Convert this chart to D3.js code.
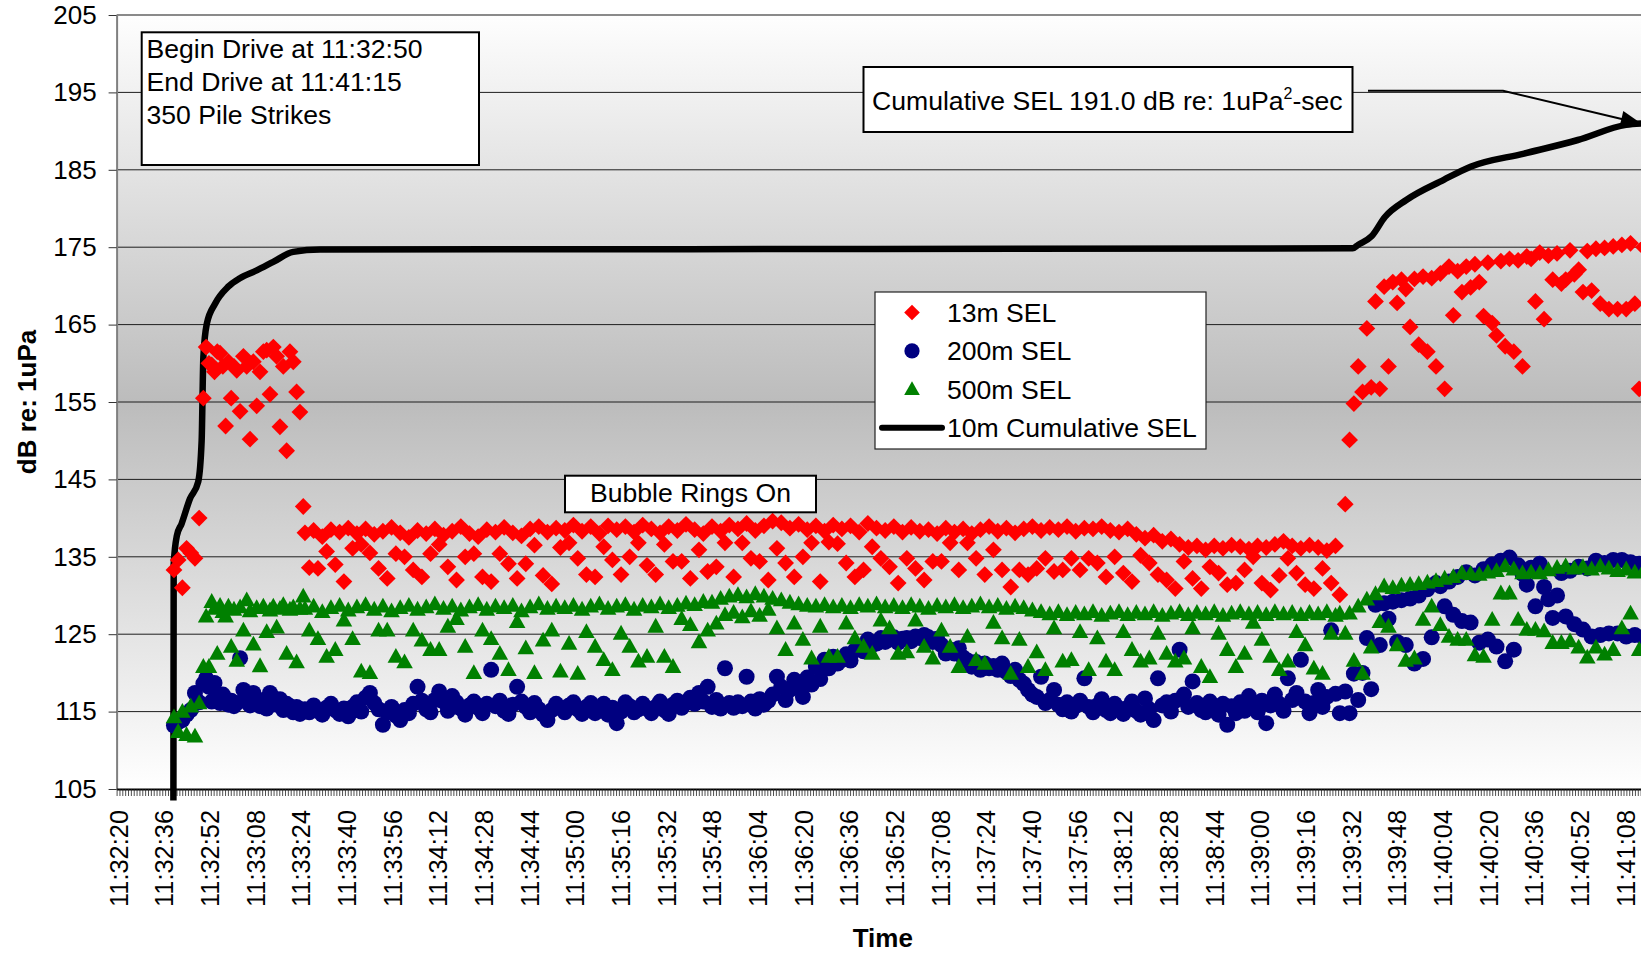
<!DOCTYPE html>
<html>
<head>
<meta charset="utf-8">
<script src="https://cdn.jsdelivr.net/npm/d3@7"></script>
<style>
  html, body { margin: 0; padding: 0; background: #ffffff; }
  svg { display: block; font-family: "Liberation Sans", Arial, sans-serif; }
</style>
</head>
<body>
<svg id="chart" width="1641" height="953"></svg>
<script>
// ---------------- DATA ----------------
const yTicks = [105, 115, 125, 135, 145, 155, 165, 175, 185, 195, 205];

const tickLabels = ["11:32:20","11:32:36","11:32:52","11:33:08","11:33:24","11:33:40","11:33:56",
  "11:34:12","11:34:28","11:34:44","11:35:00","11:35:16","11:35:32","11:35:48","11:36:04",
  "11:36:20","11:36:36","11:36:52","11:37:08","11:37:24","11:37:40","11:37:56","11:38:12",
  "11:38:28","11:38:44","11:39:00","11:39:16","11:39:32","11:39:48","11:40:04","11:40:20",
  "11:40:36","11:40:52","11:41:08"];
const tickLabelSeconds = [0,16,32,48,64,80,96,112,128,144,160,176,192,208,224,240,256,272,288,
  304,320,336,352,368,384,400,416,432,448,464,480,496,512,528]; // seconds after 11:32:20

// strike number (0-based) -> seconds after 11:32:20, read at these anchor strikes
const strikeAnchors = [0, 7, 19, 39, 40, 279, 280, 349];
const strikeAnchorSeconds = [19.6, 29.9, 41.6, 64.9, 65.5, 428.1, 430.0, 534.5];

// 13m SEL (dB) per strike
const sel13m = [
  133.3,134.6,131.0,136.1,135.5,134.8,140.0,155.5,162.1,160.0,
  159.8,158.9,161.5,161.3,159.6,151.9,160.2,155.5,159.6,159.1,
  153.8,160.9,159.6,150.2,160.2,154.5,158.9,161.5,161.7,156.0,
  162.1,160.9,151.8,159.6,148.7,161.5,160.2,156.3,153.7,141.5,
  138.1,133.6,138.4,133.5,137.6,135.7,138.5,134.0,138.2,131.8,
  138.7,136.1,138.0,136.6,138.6,135.5,137.9,133.5,138.3,132.2,
  138.8,135.4,138.1,135.0,137.5,133.3,138.4,132.4,138.0,135.4,
  138.6,136.6,137.8,133.7,138.3,132.0,138.9,135.0,138.0,135.4,
  137.6,132.4,138.5,131.8,138.2,135.4,138.8,134.1,138.1,132.2,
  137.7,134.1,138.6,136.5,138.9,132.6,138.2,131.5,138.7,136.2,
  138.4,136.8,139.1,134.8,138.3,132.7,138.9,132.4,138.0,136.3,
  139.0,134.6,138.5,132.7,138.9,135.0,138.2,136.8,139.1,133.9,
  138.6,132.7,138.1,136.6,138.9,134.4,138.4,134.4,139.2,132.2,
  138.5,135.9,138.0,133.1,138.9,133.7,138.3,136.8,139.1,132.4,
  138.6,136.8,139.3,134.8,138.4,134.4,139.0,132.0,139.6,136.1,
  139.4,134.2,138.7,132.4,139.2,135.0,138.5,136.8,139.0,131.8,
  138.3,136.9,139.1,136.7,138.6,134.2,139.0,132.4,138.2,133.3,
  139.3,136.3,138.7,134.8,138.4,133.7,138.9,131.6,138.2,134.8,
  138.8,133.5,138.3,132.0,138.5,134.4,138.0,134.4,138.7,136.8,
  138.2,133.3,138.6,136.8,138.0,134.8,138.5,132.7,138.9,135.9,
  138.3,133.3,138.7,131.1,138.1,133.3,138.6,132.7,138.9,133.5,
  138.4,134.8,138.8,133.1,138.5,133.3,138.9,134.8,138.3,133.3,
  138.7,134.8,138.6,134.2,138.9,132.4,138.4,135.0,138.2,132.9,
  138.6,131.8,137.9,135.2,137.4,134.2,137.8,132.7,137.0,132.0,
  137.3,130.9,136.6,134.4,136.2,132.2,136.4,130.9,135.9,133.7,
  136.4,132.9,136.1,131.4,136.5,131.6,136.3,133.3,136.0,135.0,
  136.4,131.6,136.2,130.7,136.6,132.6,137.0,134.8,136.4,132.9,
  136.1,131.4,136.5,130.9,136.2,133.5,135.8,131.6,136.4,130.1,
  141.8,150.1,154.8,159.6,156.3,164.5,156.9,168.0,156.7,169.9,
  159.6,170.5,167.8,170.8,169.6,164.7,170.9,162.4,171.2,161.5,
  171.0,159.6,171.6,156.7,172.5,166.2,171.9,169.2,172.5,169.8,
  172.8,170.5,166.1,173.0,165.2,163.6,173.2,162.2,173.5,161.5,
  173.3,159.6,173.8,173.5,168.0,174.3,165.7,173.9,170.8,174.2,
  170.3,170.8,174.6,171.5,172.1,169.2,174.5,169.4,174.8,167.7,
  174.9,167.0,175.1,167.0,175.3,167.0,175.5,167.7,156.7,175.0
];

// 200m SEL (dB) per strike
const sel200m = [
  113.2,113.6,113.9,114.6,115.2,117.4,116.2,118.6,119.3,118.2,
  116.3,118.7,117.0,116.1,117.2,116.6,115.9,116.4,115.7,116.1,
  121.9,117.8,116.4,115.8,117.4,116.2,115.7,116.5,115.4,117.4,
  116.8,115.9,116.6,115.2,116.0,115.7,114.9,115.6,114.7,115.1,
  115.3,114.9,115.8,115.1,114.6,115.5,116.0,115.2,114.7,115.4,
  114.4,115.6,116.2,115.0,116.8,117.4,116.1,115.3,113.3,114.9,
  115.6,114.5,113.9,115.2,114.8,116.0,118.2,116.4,115.3,114.9,
  116.5,117.6,116.3,115.1,117.0,116.2,115.4,114.6,115.8,116.3,
  115.5,114.8,116.0,120.4,115.7,116.4,115.1,114.7,115.9,118.2,
  116.3,115.6,114.9,116.1,115.3,114.6,113.9,115.2,116.0,115.5,
  114.9,115.8,116.2,115.3,114.7,115.6,116.1,114.8,115.4,116.0,
  114.6,115.5,113.5,115.0,116.2,115.7,114.9,115.3,116.0,115.4,
  114.8,115.6,116.3,115.2,114.7,115.9,116.4,115.5,116.1,116.8,
  116.0,117.4,116.3,118.2,115.6,116.5,115.4,120.6,116.1,115.5,
  116.2,115.7,119.5,116.3,115.4,116.6,115.9,116.4,117.2,119.5,
  118.2,116.5,117.8,119.1,118.2,116.9,119.4,118.5,120.8,119.2,
  121.7,120.6,122.1,121.2,121.7,122.4,121.6,122.9,123.3,122.8,
  124.3,123.6,123.8,124.5,124.0,124.3,124.6,123.9,124.4,124.5,
  124.1,124.7,124.5,124.9,124.6,124.0,124.4,123.6,122.5,123.0,
  122.5,123.2,122.0,121.6,120.8,121.4,120.4,121.2,120.6,120.9,
  120.4,121.2,120.1,119.6,120.4,119.1,118.6,117.8,117.2,116.9,
  119.5,116.1,116.5,117.8,115.9,115.3,116.2,115.0,115.7,116.4,
  119.3,115.6,114.9,115.8,116.6,115.2,114.8,116.0,115.4,114.7,
  115.5,116.3,115.1,114.6,116.7,115.3,113.9,119.3,115.8,116.2,
  115.0,116.4,123.0,117.2,115.6,118.9,116.1,115.2,114.9,116.3,
  115.4,114.6,116.0,113.3,115.7,114.8,116.2,115.1,117.0,115.5,
  114.9,116.4,113.5,115.8,117.2,116.0,115.1,119.3,116.5,117.4,
  121.7,116.3,114.8,116.1,117.8,115.6,116.9,125.5,117.3,114.8,
  117.6,114.8,119.9,116.5,120.0,124.5,117.9,128.8,123.6,129.0,
  127.0,129.2,124.0,129.4,123.6,129.6,121.2,130.0,121.8,130.8,
  124.6,131.6,131.2,128.6,131.8,127.5,132.4,126.7,133.0,126.5,
  132.6,123.9,133.4,124.3,134.0,123.4,134.5,121.5,134.9,123.0,
  133.9,132.8,131.4,133.6,128.6,134.1,131.1,129.5,127.1,130.0,
  132.9,127.3,133.2,126.3,133.7,125.6,133.5,124.7,134.5,124.9,
  134.2,125.1,134.6,125.1,134.6,124.7,134.3,124.9,134.1,124.6
];

// 500m SEL (dB) per strike
const sel500m = [
  114.3,112.4,115.0,112.0,115.7,111.8,116.1,120.8,127.3,120.8,
  129.2,128.3,122.5,128.7,127.9,127.3,128.6,123.4,128.2,121.6,
  128.5,125.5,129.4,128.0,123.7,128.4,120.9,128.6,125.3,128.1,
  128.6,125.9,128.3,128.8,122.5,128.2,128.5,121.4,128.3,129.9,
  128.3,125.5,128.6,124.4,127.9,122.1,128.4,123.0,128.7,126.8,
  128.1,124.4,128.5,120.2,128.8,120.0,128.2,125.5,128.6,125.5,
  128.0,122.1,128.4,121.4,128.7,125.5,128.2,124.2,128.5,123.0,
  128.9,123.0,128.3,126.0,128.6,127.0,128.1,123.4,128.5,120.0,
  128.8,125.5,128.2,124.4,128.6,122.5,128.4,120.4,128.7,126.6,
  128.0,123.2,128.5,120.0,128.9,124.2,128.3,125.5,128.6,120.2,
  128.4,123.8,128.7,119.9,128.2,125.3,128.6,123.4,128.9,121.7,
  128.3,120.4,128.6,125.1,128.8,123.4,128.2,121.5,128.7,122.1,
  128.5,126.0,128.9,122.1,128.4,120.8,128.7,127.0,129.0,126.2,
  128.8,124.0,129.2,125.5,129.1,126.4,129.6,127.5,129.9,127.8,
  130.1,127.2,129.8,128.0,130.2,127.4,129.9,128.2,129.6,125.8,
  129.4,123.0,129.1,126.4,128.9,124.3,128.7,121.9,128.6,126.0,
  128.8,122.1,128.5,122.1,128.7,126.4,128.4,124.5,128.8,123.4,
  128.6,122.5,128.9,126.8,128.5,125.8,128.7,122.5,128.4,122.7,
  128.8,126.8,128.6,123.4,128.3,121.9,128.7,125.5,128.5,123.4,
  128.8,120.8,128.4,124.7,128.6,121.7,128.9,121.2,128.5,126.5,
  128.7,124.5,128.3,119.9,128.6,124.3,128.4,120.8,128.1,122.7,
  127.9,120.4,127.6,125.8,127.9,121.5,127.5,121.7,127.8,125.3,
  127.6,120.4,127.9,124.5,127.4,121.5,127.7,120.4,127.9,125.3,
  127.5,123.0,127.8,121.5,127.6,121.9,127.9,125.1,127.4,122.5,
  127.7,121.5,127.9,121.9,127.5,125.8,127.8,120.8,127.6,119.5,
  127.9,125.1,127.4,123.0,127.7,120.8,127.9,122.5,127.6,126.5,
  127.8,124.3,127.5,122.1,127.9,120.4,127.6,121.5,127.8,125.3,
  127.5,123.6,127.8,120.6,127.6,119.9,127.9,125.1,127.4,127.7,
  125.1,127.7,121.6,128.6,119.9,129.5,123.3,130.2,126.6,131.2,
  126.0,131.0,123.6,131.3,121.6,131.4,121.9,131.5,126.9,131.7,
  128.6,131.9,126.2,132.2,124.7,132.4,124.3,132.9,124.3,132.8,
  122.3,132.7,122.1,133.0,126.9,133.2,130.3,133.8,130.3,133.4,
  126.9,132.9,125.6,133.0,125.6,132.9,125.4,133.3,123.9,133.6,
  123.9,133.8,124.1,133.5,123.3,133.7,122.0,133.4,123.3,133.8,
  122.4,133.5,123.0,133.2,125.8,133.4,127.7,133.0,123.0,133.2
];

// 10m cumulative SEL (dB)
const cumSeconds = [19.4, 19.5, 20.6, 22.3, 25.2, 28.1, 29.3, 29.9, 31.1, 34.0, 38.6, 42.7, 48.6,
  54.4, 61.4, 70.8, 200, 432.6, 434.5, 439.2, 443.9, 451.4, 464.5, 473.9, 492.7, 511.5, 528.4, 535];
const cumSEL = [103.5, 134.0, 137.7, 139.3, 142.5, 144.7, 150.0, 160.8, 165.1, 167.7, 169.9, 171.0, 172.0,
  173.1, 174.4, 174.7, 174.75, 174.85, 175.3, 176.4, 178.9, 181.1, 183.7, 185.4, 187.1, 188.85, 190.8, 191.0];

// ---------------- CHART ----------------
const svg = d3.select("#chart");
const FONT = 26.6;

const x = d3.scaleLinear().domain([-0.5, 538.5]).range([116.6, 116.6 + 539 * 2.854]);
const y = d3.scaleLinear().domain([105, 205]).range([789, 15]);
const strikeTime = d3.scaleLinear().domain(strikeAnchors).range(strikeAnchorSeconds);
const [xl, xr] = x.range();

const defs = svg.append("defs");
const grad = defs.append("linearGradient").attr("id", "bg")
  .attr("x1", 0).attr("y1", 0).attr("x2", 0).attr("y2", 1);
grad.selectAll("stop").data([[0, "#fefefe"], [0.5, "#bcbcbc"], [1, "#ffffff"]])
  .join("stop").attr("offset", d => d[0]).attr("stop-color", d => d[1]);

// plot area background
svg.append("rect").attr("x", xl).attr("y", y(205)).attr("width", xr - xl)
  .attr("height", y(105) - y(205)).attr("fill", "url(#bg)");

// gridlines
svg.append("g").selectAll("line").data(yTicks.filter(v => v > 105 && v < 205)).join("line")
  .attr("x1", xl).attr("x2", xr).attr("y1", d => y(d)).attr("y2", d => y(d))
  .attr("stroke", "#1e1e1e").attr("stroke-width", 1);
// plot border top
svg.append("line").attr("x1", xl).attr("x2", xr).attr("y1", y(205)).attr("y2", y(205))
  .attr("stroke", "#8a8a8a").attr("stroke-width", 2);

// Y axis
const yAxis = svg.append("g").attr("transform", `translate(${xl},0)`)
  .call(d3.axisLeft(y).tickValues(yTicks).tickSize(8).tickSizeOuter(0).tickPadding(12));
yAxis.select(".domain").attr("stroke", "#808080").attr("stroke-width", 2);
yAxis.selectAll(".tick line").attr("stroke", "#333");
yAxis.selectAll("text").attr("font-size", 26).attr("fill", "#000")
  .attr("font-family", "'Liberation Sans', Arial, sans-serif");

// X axis minor ticks (one per second / category)
const xMinor = svg.append("g").attr("transform", `translate(0,${y(105)})`)
  .call(d3.axisBottom(x).tickValues(d3.range(-0.5, 539, 1)).tickSize(7).tickSizeOuter(0).tickFormat(""));
xMinor.select(".domain").attr("stroke", "#000").attr("stroke-width", 2);
xMinor.selectAll(".tick line").attr("stroke", "#222").attr("stroke-width", 0.8);

// X labels
const xLab = svg.append("g").attr("transform", `translate(0,${y(105)})`)
  .call(d3.axisBottom(x).tickValues(tickLabelSeconds).tickSize(0)
    .tickFormat((d, i) => tickLabels[i]));
xLab.select(".domain").remove();
xLab.selectAll("text")
  .attr("transform", "rotate(-90)").attr("x", -21).attr("y", 0).attr("dy", "0.36em")
  .attr("text-anchor", "end").attr("font-size", 25.4).attr("fill", "#000")
  .attr("font-family", "'Liberation Sans', Arial, sans-serif");

// axis titles
svg.append("text").attr("transform", `translate(27,${(y(105) + y(205)) / 2}) rotate(-90)`)
  .attr("text-anchor", "middle").attr("dy", "0.35em").attr("font-weight", "bold")
  .attr("font-size", 26).text("dB re: 1uPa");
svg.append("text").attr("x", (xl + xr) / 2 - 3).attr("y", 947).attr("text-anchor", "middle")
  .attr("font-weight", "bold").attr("font-size", 26).text("Time");

// cumulative line
svg.append("path").datum(cumSeconds.map((s, i) => [s, cumSEL[i]]))
  .attr("d", d3.line().x(d => x(d[0])).y(d => y(d[1])).curve(d3.curveMonotoneX))
  .attr("fill", "none").attr("stroke", "#000").attr("stroke-width", 6.5)
  .attr("stroke-linejoin", "round").attr("stroke-linecap", "butt");

// markers
const diamond = "M0,-8.4L8.4,0L0,8.4L-8.4,0Z";
const triangle = "M0,-8.6L8.3,6.2L-8.3,6.2Z";
const R = 8;

svg.append("g").selectAll("path").data(sel13m).join("path")
  .attr("d", diamond).attr("fill", "#ff0000")
  .attr("transform", (d, i) => `translate(${x(strikeTime(i))},${y(d)})`);
svg.append("g").selectAll("circle").data(sel200m).join("circle")
  .attr("cx", (d, i) => x(strikeTime(i))).attr("cy", d => y(d)).attr("r", R)
  .attr("fill", "#000080");
svg.append("g").selectAll("path").data(sel500m).join("path")
  .attr("d", triangle).attr("fill", "#008000")
  .attr("transform", (d, i) => `translate(${x(strikeTime(i))},${y(d)})`);

// annotation: drive info
const info = svg.append("g");
info.append("rect").attr("x", 141.7).attr("y", 32.3).attr("width", 337.3).attr("height", 132.7)
  .attr("fill", "#fff").attr("stroke", "#000").attr("stroke-width", 2);
["Begin Drive at 11:32:50", "End Drive at 11:41:15", "350 Pile Strikes"].forEach((t, i) => {
  info.append("text").attr("x", 146.5).attr("y", 57.5 + i * 33).attr("font-size", FONT).text(t);
});

// annotation: cumulative
const cum = svg.append("g");
cum.append("rect").attr("x", 863.5).attr("y", 67).attr("width", 489).attr("height", 65)
  .attr("fill", "#fff").attr("stroke", "#000").attr("stroke-width", 2);
const ct = cum.append("text").attr("x", 872).attr("y", 110).attr("font-size", FONT);
ct.append("tspan").text("Cumulative SEL 191.0 dB re: 1uPa");
ct.append("tspan").attr("font-size", 16).attr("dy", -11).text("2");
ct.append("tspan").attr("dy", 11).text("-sec");
// arrow to end of cumulative curve
const tipX = x(533.6), tipY = y(191.0);
const elbowX = 1503, elbowY = 90.7;
cum.append("path").attr("d", `M1368,${elbowY}L${elbowX},${elbowY}L${tipX - 14},${tipY - 3.2}`)
  .attr("fill", "none").attr("stroke", "#000").attr("stroke-width", 2);
{
  const ang = Math.atan2(tipY - elbowY, tipX - elbowX);
  const L = 20, Wd = 8;
  const bx = tipX - L * Math.cos(ang), by = tipY - L * Math.sin(ang);
  const px = -Math.sin(ang) * Wd, py = Math.cos(ang) * Wd;
  cum.append("path").attr("d", `M${tipX},${tipY}L${bx + px},${by + py}L${bx - px},${by - py}Z`)
    .attr("fill", "#000");
}

// annotation: bubble rings
const bub = svg.append("g");
bub.append("rect").attr("x", 565).attr("y", 475.7).attr("width", 251).attr("height", 36.6)
  .attr("fill", "#fff").attr("stroke", "#000").attr("stroke-width", 2);
bub.append("text").attr("x", 690.5).attr("y", 502).attr("text-anchor", "middle")
  .attr("font-size", FONT).text("Bubble Rings On");

// legend
const leg = svg.append("g");
leg.append("rect").attr("x", 875).attr("y", 292).attr("width", 331).attr("height", 157)
  .attr("fill", "#fff").attr("stroke", "#222").attr("stroke-width", 1.2);
const legItems = [
  { label: "13m SEL", type: "diamond", color: "#ff0000" },
  { label: "200m SEL", type: "circle", color: "#000080" },
  { label: "500m SEL", type: "triangle", color: "#008000" },
  { label: "10m Cumulative SEL", type: "line", color: "#000" }
];
legItems.forEach((it, i) => {
  const cy = 312.5 + i * 38.4;
  if (it.type === "diamond") leg.append("path").attr("d", "M0,-7.8L7.8,0L0,7.8L-7.8,0Z").attr("fill", it.color)
    .attr("transform", `translate(912,${cy})`);
  if (it.type === "circle") leg.append("circle").attr("cx", 912).attr("cy", cy).attr("r", 7.6).attr("fill", it.color);
  if (it.type === "triangle") leg.append("path").attr("d", "M0,-8L7.8,5.8L-7.8,5.8Z").attr("fill", it.color)
    .attr("transform", `translate(912,${cy})`);
  if (it.type === "line") leg.append("line").attr("x1", 882).attr("x2", 942).attr("y1", cy).attr("y2", cy)
    .attr("stroke", it.color).attr("stroke-width", 6).attr("stroke-linecap", "round");
  leg.append("text").attr("x", 947).attr("y", cy + 9.5).attr("font-size", FONT).text(it.label);
});
</script>
</body>
</html>
